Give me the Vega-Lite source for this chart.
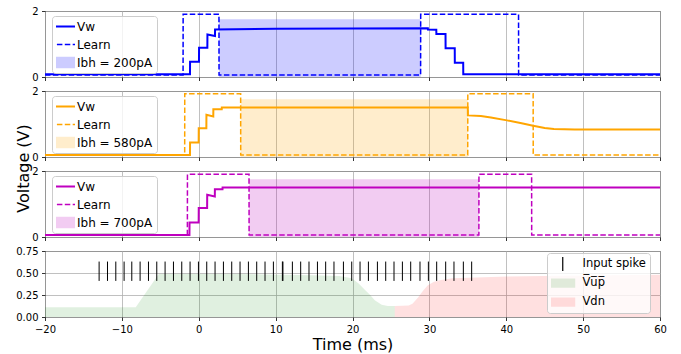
{
  "$schema": "https://vega.github.io/schema/vega-lite/v6.json",
  "padding": {"left": 14, "top": 5, "right": 5, "bottom": 3},
  "background": "white",
  "config": {
    "font": "DejaVu Sans",
    "view": {"stroke": "#333333", "strokeWidth": 1},
    "axis": {"labelFont": "DejaVu Sans", "labelFontSize": 10, "labelColor": "black", "titleFont": "DejaVu Sans", "titleFontSize": 16, "titleFontWeight": "normal", "titleColor": "black", "domain": false, "tickColor": "black", "tickSize": 3.5, "tickWidth": 0.8, "gridColor": "#b0b0b0", "gridWidth": 0.8, "labelPadding": 3.5, "labelFlush": false, "labelOverlap": false},
    "legend": {"labelFont": "DejaVu Sans", "labelColor": "black", "titleFont": "DejaVu Sans"}
  },
  "datasets": {
    "p1": [
      {"s": "Ibh = 200pA", "t": 2.64, "t2": 28.87, "v": 0, "v2": 1.75},
      {"s": "Learn", "t": -20, "v": 0.06}, {"s": "Learn", "t": -2.04, "v": 0.06}, {"s": "Learn", "t": -2.03, "v": 1.9}, {"s": "Learn", "t": 2.63, "v": 1.9}, {"s": "Learn", "t": 2.64, "v": 0.06}, {"s": "Learn", "t": 28.86, "v": 0.06}, {"s": "Learn", "t": 28.87, "v": 1.9}, {"s": "Learn", "t": 41.6, "v": 1.9}, {"s": "Learn", "t": 41.61, "v": 0.06}, {"s": "Learn", "t": 60, "v": 0.06},
      {"s": "Vw", "t": -20, "v": 0.08}, {"s": "Vw", "t": -1.14, "v": 0.08}, {"s": "Vw", "t": -1.13, "v": 0.46}, {"s": "Vw", "t": 0.03, "v": 0.46}, {"s": "Vw", "t": 0.04, "v": 0.89}, {"s": "Vw", "t": 1.12, "v": 0.89}, {"s": "Vw", "t": 1.13, "v": 1.29}, {"s": "Vw", "t": 2.11, "v": 1.24}, {"s": "Vw", "t": 2.12, "v": 1.44}, {"s": "Vw", "t": 10, "v": 1.46}, {"s": "Vw", "t": 20, "v": 1.47}, {"s": "Vw", "t": 29.8, "v": 1.48}, {"s": "Vw", "t": 29.81, "v": 1.44}, {"s": "Vw", "t": 30.9, "v": 1.43}, {"s": "Vw", "t": 30.91, "v": 1.3}, {"s": "Vw", "t": 32.1, "v": 1.3}, {"s": "Vw", "t": 32.11, "v": 0.87}, {"s": "Vw", "t": 33.3, "v": 0.87}, {"s": "Vw", "t": 33.31, "v": 0.43}, {"s": "Vw", "t": 34.4, "v": 0.43}, {"s": "Vw", "t": 34.41, "v": 0.08}, {"s": "Vw", "t": 60, "v": 0.08}
    ],
    "p2": [
      {"s": "Ibh = 580pA", "t": 5.46, "t2": 35.0, "v": 0, "v2": 1.75},
      {"s": "Learn", "t": -20, "v": 0.06}, {"s": "Learn", "t": -1.83, "v": 0.06}, {"s": "Learn", "t": -1.82, "v": 1.92}, {"s": "Learn", "t": 5.45, "v": 1.92}, {"s": "Learn", "t": 5.46, "v": 0.06}, {"s": "Learn", "t": 34.99, "v": 0.06}, {"s": "Learn", "t": 35.0, "v": 1.92}, {"s": "Learn", "t": 43.5, "v": 1.92}, {"s": "Learn", "t": 43.51, "v": 0.06}, {"s": "Learn", "t": 60, "v": 0.06},
      {"s": "Vw", "t": -20, "v": 0.06}, {"s": "Vw", "t": -1.14, "v": 0.06}, {"s": "Vw", "t": -1.13, "v": 0.44}, {"s": "Vw", "t": -0.01, "v": 0.44}, {"s": "Vw", "t": 0.0, "v": 0.87}, {"s": "Vw", "t": 0.99, "v": 0.87}, {"s": "Vw", "t": 1.0, "v": 1.28}, {"s": "Vw", "t": 1.89, "v": 1.23}, {"s": "Vw", "t": 1.9, "v": 1.45}, {"s": "Vw", "t": 2.99, "v": 1.45}, {"s": "Vw", "t": 3.0, "v": 1.5}, {"s": "Vw", "t": 35.0, "v": 1.5}, {"s": "Vw", "t": 35.01, "v": 1.26}, {"s": "Vw", "t": 36.7, "v": 1.24}, {"s": "Vw", "t": 38, "v": 1.2}, {"s": "Vw", "t": 40.1, "v": 1.11}, {"s": "Vw", "t": 42, "v": 1.02}, {"s": "Vw", "t": 43.5, "v": 0.95}, {"s": "Vw", "t": 45, "v": 0.88}, {"s": "Vw", "t": 46.2, "v": 0.85}, {"s": "Vw", "t": 48.9, "v": 0.83}, {"s": "Vw", "t": 60, "v": 0.83}
    ],
    "p3": [
      {"s": "Ibh = 700pA", "t": 6.55, "t2": 36.45, "v": 0, "v2": 1.75},
      {"s": "Learn", "t": -20, "v": 0.06}, {"s": "Learn", "t": -1.48, "v": 0.06}, {"s": "Learn", "t": -1.47, "v": 1.9}, {"s": "Learn", "t": 6.54, "v": 1.9}, {"s": "Learn", "t": 6.55, "v": 0.06}, {"s": "Learn", "t": 36.44, "v": 0.06}, {"s": "Learn", "t": 36.45, "v": 1.9}, {"s": "Learn", "t": 43.3, "v": 1.9}, {"s": "Learn", "t": 43.31, "v": 0.06}, {"s": "Learn", "t": 60, "v": 0.06},
      {"s": "Vw", "t": -20, "v": 0.06}, {"s": "Vw", "t": -1.21, "v": 0.06}, {"s": "Vw", "t": -1.2, "v": 0.44}, {"s": "Vw", "t": -0.01, "v": 0.44}, {"s": "Vw", "t": 0.0, "v": 0.88}, {"s": "Vw", "t": 1.09, "v": 0.88}, {"s": "Vw", "t": 1.1, "v": 1.28}, {"s": "Vw", "t": 2.09, "v": 1.23}, {"s": "Vw", "t": 2.1, "v": 1.45}, {"s": "Vw", "t": 3.09, "v": 1.45}, {"s": "Vw", "t": 3.1, "v": 1.5}, {"s": "Vw", "t": 60, "v": 1.5}
    ],
    "p4": [
      {"s": "V̅u̅p̅", "t": -20, "v": 0.11}, {"s": "V̅u̅p̅", "t": -8.2, "v": 0.11}, {"s": "V̅u̅p̅", "t": -5.2, "v": 0.49}, {"s": "V̅u̅p̅", "t": 5, "v": 0.49}, {"s": "V̅u̅p̅", "t": 15, "v": 0.475}, {"s": "V̅u̅p̅", "t": 18.3, "v": 0.466}, {"s": "V̅u̅p̅", "t": 19.9, "v": 0.44}, {"s": "V̅u̅p̅", "t": 20.8, "v": 0.38}, {"s": "V̅u̅p̅", "t": 21.6, "v": 0.31}, {"s": "V̅u̅p̅", "t": 22.3, "v": 0.25}, {"s": "V̅u̅p̅", "t": 22.9, "v": 0.19}, {"s": "V̅u̅p̅", "t": 23.8, "v": 0.14}, {"s": "V̅u̅p̅", "t": 24.6, "v": 0.125}, {"s": "V̅u̅p̅", "t": 25.5, "v": 0.125},
      {"s": "Vdn", "t": 25.5, "v": 0.125}, {"s": "Vdn", "t": 27.3, "v": 0.13}, {"s": "Vdn", "t": 27.8, "v": 0.15}, {"s": "Vdn", "t": 28.5, "v": 0.22}, {"s": "Vdn", "t": 29.2, "v": 0.3}, {"s": "Vdn", "t": 29.8, "v": 0.36}, {"s": "Vdn", "t": 30.6, "v": 0.4}, {"s": "Vdn", "t": 31.5, "v": 0.42}, {"s": "Vdn", "t": 33, "v": 0.44}, {"s": "Vdn", "t": 36, "v": 0.45}, {"s": "Vdn", "t": 40, "v": 0.46}, {"s": "Vdn", "t": 47, "v": 0.47}, {"s": "Vdn", "t": 60, "v": 0.48}
    ],
    "spikes": [
      {"t": -12.96}, {"t": -11.87}, {"t": -10.79}, {"t": -9.71}, {"t": -8.71}, {"t": -7.63}, {"t": -6.54}, {"t": -5.46}, {"t": -4.38}, {"t": -3.29}, {"t": -2.21}, {"t": -1.13}, {"t": -0.04}, {"t": 1.04}, {"t": 2.12}, {"t": 3.21}, {"t": 4.29}, {"t": 5.37}, {"t": 6.46}, {"t": 7.54}, {"t": 8.62}, {"t": 9.71}, {"t": 10.88}, {"t": 10.95}, {"t": 12.18}, {"t": 13.26}, {"t": 14.34}, {"t": 15.44}, {"t": 16.51}, {"t": 17.59}, {"t": 18.82}, {"t": 19.9}, {"t": 20.98}, {"t": 22.07}, {"t": 23.24}, {"t": 24.32}, {"t": 25.4}, {"t": 26.49}, {"t": 27.57}, {"t": 28.78}, {"t": 29.87}, {"t": 30.95}, {"t": 32.12}, {"t": 33.2}, {"t": 34.42}, {"t": 35.5}
    ]
  },
  "bounds": "flush",
  "spacing": 14,
  "resolve": {"scale": {"color": "independent", "x": "independent", "y": "independent"}, "legend": {"color": "independent"}},
  "vconcat": [
    {
      "width": 615, "height": 66,
      "data": {"name": "p1"},
      "layer": [
        {
          "transform": [{"filter": "datum.s === 'Ibh = 200pA'"}],
          "mark": {"type": "rect"},
          "encoding": {
            "x": {"field": "t", "type": "quantitative", "scale": {"domain": [-20, 60], "nice": false}, "axis": {"values": [-20, -10, 0, 10, 20, 30, 40, 50, 60], "labels": false, "title": null, "grid": true}},
            "x2": {"field": "t2"},
            "y": {"field": "v", "type": "quantitative", "scale": {"domain": [0, 2], "nice": false}, "axis": {"values": [0, 1, 2], "title": null, "grid": true}},
            "y2": {"field": "v2"},
            "color": {"field": "s", "type": "nominal", "scale": {"domain": ["Vw", "Learn", "Ibh = 200pA"], "range": ["#0000ff", "#0000ff", "rgba(0,0,255,0.2)"]},
              "legend": {"orient": "none", "legendX": 7, "legendY": 5, "direction": "vertical", "title": null, "labelFontSize": 12, "symbolSize": 676, "clipHeight": 13, "padding": 4, "rowPadding": 5, "labelOffset": 9, "fillColor": "rgba(255,255,255,0.8)", "strokeColor": "#cccccc", "cornerRadius": 3,
                "symbolOpacity": 1,
                "symbolType": {"expr": "datum.value === 'Vw' || datum.value === 'Learn' ? 'M-1,0H1' : 'M-1,-0.45H1V0.45H-1Z'"},
                "symbolStrokeWidth": {"expr": "datum.value === 'Vw' ? 2 : (datum.value === 'Learn' ? 1.5 : 0)"},
                "symbolDash": {"expr": "datum.value === 'Learn' ? [5.5,2.4] : [1,0]"}}}
          }
        },
        {
          "transform": [{"filter": "datum.s === 'Learn'"}],
          "mark": {"type": "line", "strokeWidth": 1.5, "strokeDash": [5.5, 2.4]},
          "encoding": {"x": {"field": "t", "type": "quantitative"}, "y": {"field": "v", "type": "quantitative"}, "color": {"field": "s", "type": "nominal"}}
        },
        {
          "transform": [{"filter": "datum.s === 'Vw'"}],
          "mark": {"type": "line", "strokeWidth": 2},
          "encoding": {"x": {"field": "t", "type": "quantitative"}, "y": {"field": "v", "type": "quantitative"}, "color": {"field": "s", "type": "nominal"}}
        }
      ]
    },
    {
      "width": 615, "height": 66,
      "data": {"name": "p2"},
      "layer": [
        {
          "transform": [{"filter": "datum.s === 'Ibh = 580pA'"}],
          "mark": {"type": "rect"},
          "encoding": {
            "x": {"field": "t", "type": "quantitative", "scale": {"domain": [-20, 60], "nice": false}, "axis": {"values": [-20, -10, 0, 10, 20, 30, 40, 50, 60], "labels": false, "title": null, "grid": true}},
            "x2": {"field": "t2"},
            "y": {"field": "v", "type": "quantitative", "scale": {"domain": [0, 2], "nice": false}, "axis": {"values": [0, 1, 2], "title": "Voltage (V)", "titleX": -14, "titleY": 77, "grid": true}},
            "y2": {"field": "v2"},
            "color": {"field": "s", "type": "nominal", "scale": {"domain": ["Vw", "Learn", "Ibh = 580pA"], "range": ["#ffa500", "#ffa500", "rgba(255,165,0,0.2)"]},
              "legend": {"orient": "none", "legendX": 7, "legendY": 5, "direction": "vertical", "title": null, "labelFontSize": 12, "symbolSize": 676, "clipHeight": 13, "padding": 4, "rowPadding": 5, "labelOffset": 9, "fillColor": "rgba(255,255,255,0.8)", "strokeColor": "#cccccc", "cornerRadius": 3,
                "symbolOpacity": 1,
                "symbolType": {"expr": "datum.value === 'Vw' || datum.value === 'Learn' ? 'M-1,0H1' : 'M-1,-0.45H1V0.45H-1Z'"},
                "symbolStrokeWidth": {"expr": "datum.value === 'Vw' ? 2 : (datum.value === 'Learn' ? 1.5 : 0)"},
                "symbolDash": {"expr": "datum.value === 'Learn' ? [5.5,2.4] : [1,0]"}}}
          }
        },
        {
          "transform": [{"filter": "datum.s === 'Learn'"}],
          "mark": {"type": "line", "strokeWidth": 1.5, "strokeDash": [5.5, 2.4]},
          "encoding": {"x": {"field": "t", "type": "quantitative"}, "y": {"field": "v", "type": "quantitative"}, "color": {"field": "s", "type": "nominal"}}
        },
        {
          "transform": [{"filter": "datum.s === 'Vw'"}],
          "mark": {"type": "line", "strokeWidth": 2},
          "encoding": {"x": {"field": "t", "type": "quantitative"}, "y": {"field": "v", "type": "quantitative"}, "color": {"field": "s", "type": "nominal"}}
        }
      ]
    },
    {
      "width": 615, "height": 66,
      "data": {"name": "p3"},
      "layer": [
        {
          "transform": [{"filter": "datum.s === 'Ibh = 700pA'"}],
          "mark": {"type": "rect"},
          "encoding": {
            "x": {"field": "t", "type": "quantitative", "scale": {"domain": [-20, 60], "nice": false}, "axis": {"values": [-20, -10, 0, 10, 20, 30, 40, 50, 60], "labels": false, "title": null, "grid": true}},
            "x2": {"field": "t2"},
            "y": {"field": "v", "type": "quantitative", "scale": {"domain": [0, 2], "nice": false}, "axis": {"values": [0, 1, 2], "title": null, "grid": true}},
            "y2": {"field": "v2"},
            "color": {"field": "s", "type": "nominal", "scale": {"domain": ["Vw", "Learn", "Ibh = 700pA"], "range": ["#bf00bf", "#bf00bf", "rgba(191,0,191,0.2)"]},
              "legend": {"orient": "none", "legendX": 7, "legendY": 5, "direction": "vertical", "title": null, "labelFontSize": 12, "symbolSize": 676, "clipHeight": 13, "padding": 4, "rowPadding": 5, "labelOffset": 9, "fillColor": "rgba(255,255,255,0.8)", "strokeColor": "#cccccc", "cornerRadius": 3,
                "symbolOpacity": 1,
                "symbolType": {"expr": "datum.value === 'Vw' || datum.value === 'Learn' ? 'M-1,0H1' : 'M-1,-0.45H1V0.45H-1Z'"},
                "symbolStrokeWidth": {"expr": "datum.value === 'Vw' ? 2 : (datum.value === 'Learn' ? 1.5 : 0)"},
                "symbolDash": {"expr": "datum.value === 'Learn' ? [5.5,2.4] : [1,0]"}}}
          }
        },
        {
          "transform": [{"filter": "datum.s === 'Learn'"}],
          "mark": {"type": "line", "strokeWidth": 1.5, "strokeDash": [5.5, 2.4]},
          "encoding": {"x": {"field": "t", "type": "quantitative"}, "y": {"field": "v", "type": "quantitative"}, "color": {"field": "s", "type": "nominal"}}
        },
        {
          "transform": [{"filter": "datum.s === 'Vw'"}],
          "mark": {"type": "line", "strokeWidth": 2},
          "encoding": {"x": {"field": "t", "type": "quantitative"}, "y": {"field": "v", "type": "quantitative"}, "color": {"field": "s", "type": "nominal"}}
        }
      ]
    },
    {
      "width": 615, "height": 66,
      "layer": [
        {
          "data": {"name": "p4"},
          "mark": {"type": "area"},
          "encoding": {
            "x": {"field": "t", "type": "quantitative", "scale": {"domain": [-20, 60], "nice": false}, "axis": {"values": [-20, -10, 0, 10, 20, 30, 40, 50, 60], "title": "Time (ms)", "titlePadding": 2, "grid": true}},
            "y": {"field": "v", "type": "quantitative", "stack": null, "scale": {"domain": [0, 0.75], "nice": false}, "axis": {"values": [0, 0.25, 0.5, 0.75], "format": ".2f", "title": null, "grid": true}},
            "color": {"field": "s", "type": "nominal", "scale": {"domain": ["Input spike", "V̅u̅p̅", "Vdn"], "range": ["black", "rgba(0,128,0,0.12)", "rgba(255,0,0,0.12)"]},
              "legend": {"orient": "none", "legendX": 502, "legendY": 2, "direction": "vertical", "title": null, "labelFontSize": 11.5, "symbolSize": 625, "clipHeight": 14, "padding": 4, "rowPadding": 5, "labelOffset": 20, "fillColor": "rgba(255,255,255,0.8)", "strokeColor": "#cccccc", "cornerRadius": 3,
                "symbolOpacity": 1,
                "symbolType": {"expr": "datum.value === 'Input spike' ? 'M0.48,-0.56V0.56' : 'M-0.52,-0.37H1.48V0.37H-0.52Z'"},
                "symbolStrokeWidth": {"expr": "datum.value === 'Input spike' ? 1.2 : 0"}}}
          }
        },
        {
          "data": {"name": "spikes"},
          "mark": {"type": "rule", "strokeWidth": 1},
          "encoding": {
            "x": {"field": "t", "type": "quantitative", "axis": {"values": [-20, -10, 0, 10, 20, 30, 40, 50, 60], "title": "Time (ms)", "titlePadding": 2, "grid": true}},
            "y": {"datum": 0.41, "type": "quantitative", "axis": {"values": [0, 0.25, 0.5, 0.75], "format": ".2f", "title": null, "grid": true}},
            "y2": {"datum": 0.63},
            "color": {"datum": "Input spike"}
          }
        }
      ]
    }
  ]
}
